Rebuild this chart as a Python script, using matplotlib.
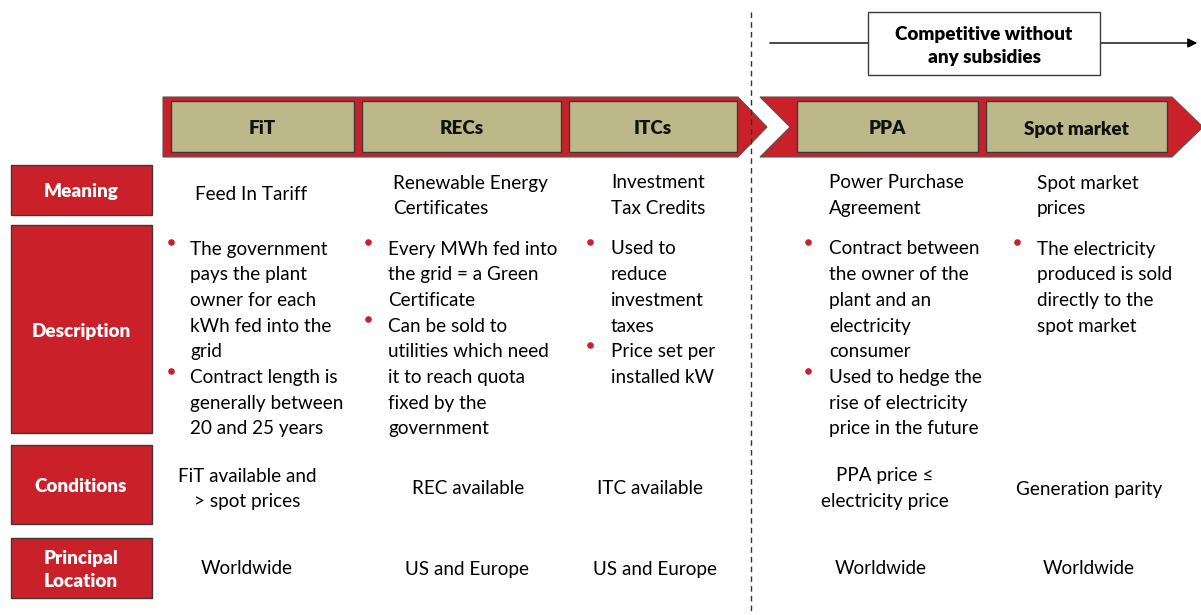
import numpy as np
import matplotlib.pyplot as plt
from matplotlib.patches import Polygon, Rectangle

plt.rcParams['font.family'] = ['Lato', 'DejaVu Sans']

# Column headers and row headers
stages = ['FiT', 'RECs', 'ITCs', 'PPA', 'Spot market']
row_names = ['Meaning', 'Description', 'Conditions', 'Principal\nLocation']

meaning = [['Feed In Tariff'],
           ['Renewable Energy', 'Certificates'],
           ['Investment', 'Tax Credits'],
           ['Power Purchase', 'Agreement'],
           ['Spot market', 'prices']]

description = [
    [['The government', 'pays the plant', 'owner for each', 'kWh fed into the', 'grid'],
     ['Contract length is', 'generally between', '20 and 25 years']],
    [['Every MWh fed into', 'the grid = a Green', 'Certificate'],
     ['Can be sold to', 'utilities which need', 'it to reach quota', 'fixed by the', 'government']],
    [['Used to', 'reduce', 'investment', 'taxes'],
     ['Price set per', 'installed kW']],
    [['Contract between', 'the owner of the', 'plant and an', 'electricity', 'consumer'],
     ['Used to hedge the', 'rise of electricity', 'price in the future']],
    [['The electricity', 'produced is sold', 'directly to the', 'spot market']],
]

conditions = [['FiT available and', '> spot prices'],
              ['REC available'],
              ['ITC available'],
              ['PPA price \u2264', 'electricity price'],
              ['Generation parity']]

location = ['Worldwide', 'US and Europe', 'US and Europe', 'Worldwide', 'Worldwide']

banner = 'Competitive without\nany subsidies'

# layout (pixel space)
RED = '#C9202A'
TAN = '#BCB88A'
EDGE = '#3a3a3a'
box_x = [(171, 354), (362, 561), (569, 737), (797, 978), (986, 1167)]
text_left = [190, 393, 611, 829, 1037]
desc_left = [190, 388, 611, 829, 1037]
bullet_x = [171, 368, 590, 808, 1017]
cond_center = [247, 468, 650, 885, 1089]
loc_center = [247, 467, 655, 881, 1089]
row_boxes = [(165, 215), (225, 433), (445, 524), (538, 598)]
line_h = 25.7
fs = 13.6
dy = 2  # small optical offset for va='center'

fig = plt.figure(figsize=(12.01, 6.15), dpi=100)
ax = fig.add_axes([0, 0, 1, 1])
ax.set_xlim(0, 1201)
ax.set_ylim(615, 0)
ax.axis('off')

# chevrons
ax.add_patch(Polygon([(163, 97), (738, 97), (767, 127), (738, 157), (163, 157)],
                     closed=True, facecolor=RED, edgecolor='#555555', lw=0.8))
ax.add_patch(Polygon([(760, 97), (1172, 97), (1203, 127), (1172, 157), (760, 157), (790, 127)],
                     closed=True, facecolor=RED, edgecolor='#555555', lw=0.8))

for (x0, x1), name in zip(box_x, stages):
    ax.add_patch(Rectangle((x0, 101), x1 - x0, 51, facecolor=TAN, edgecolor=EDGE, lw=1))
    ax.text((x0 + x1) / 2, 127 + dy, name, ha='center', va='center',
            fontsize=fs, fontweight='heavy', color='#111111')

# dashed separator
ax.plot([751, 751], [12, 615], color='#333333', lw=1, ls=(0, (4, 3)))

# competitive banner
ax.annotate('', xy=(1200, 43), xytext=(767, 43),
            arrowprops=dict(arrowstyle='-|>', color='black', lw=1, mutation_scale=14))
ax.add_patch(Rectangle((868, 12), 232, 63, facecolor='white', edgecolor=EDGE, lw=1, zorder=3))
ax.text(984, 44 + dy, banner, ha='center', va='center', fontsize=fs, fontweight='heavy',
        linespacing=1.45, zorder=4)

# row headers
for (y0, y1), name in zip(row_boxes, row_names):
    ax.add_patch(Rectangle((11, y0), 141, y1 - y0, facecolor=RED, edgecolor=EDGE, lw=1))
    ax.text(81, (y0 + y1) / 2 + dy, name, ha='center', va='center', color='white',
            fontsize=fs, fontweight='heavy', linespacing=1.4)

# meaning row
for i, lines in enumerate(meaning):
    if len(lines) == 1:
        ax.text(text_left[0] + 5 if i == 0 else text_left[i], 193 + dy, lines[0],
                ha='left', va='center', fontsize=fs)
    else:
        for j, ln in enumerate(lines):
            ax.text(text_left[i], 181 + j * line_h + dy, ln, ha='left', va='center', fontsize=fs)

# description row
for i, bullets in enumerate(description):
    k = 0
    for b in bullets:
        ax.scatter(bullet_x[i], 242 + k * line_h, s=14, color=RED, zorder=3)
        for ln in b:
            ax.text(desc_left[i], 247 + k * line_h + dy, ln,
                    ha='left', va='center', fontsize=fs)
            k += 1

# conditions row
for i, lines in enumerate(conditions):
    if len(lines) == 1:
        ax.text(cond_center[i], 487 + dy, lines[0], ha='center', va='center', fontsize=fs)
    else:
        for j, ln in enumerate(lines):
            ax.text(cond_center[i], 474 + j * line_h + dy, ln, ha='center', va='center',
                    fontsize=fs)

# location row
for i, txt in enumerate(location):
    ax.text(loc_center[i], 567 + dy, txt, ha='center', va='center', fontsize=fs)

fig.savefig('out.png', dpi=100)
